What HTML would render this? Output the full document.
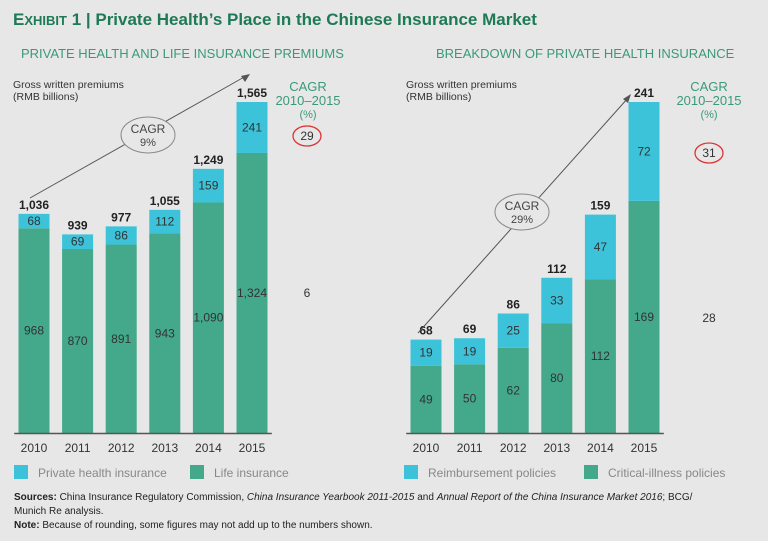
<!DOCTYPE html>
<html><head><meta charset="utf-8"><style>
body{margin:0;background:#e7e7e8;font-family:"Liberation Sans",sans-serif;}
svg{display:block}
</style></head><body>
<svg width="768" height="541" xmlns="http://www.w3.org/2000/svg">
<rect width="768" height="541" fill="#e7e7e8"/>
<text x="13" y="25" font-size="17" font-weight="bold" fill="#1e7a56">E<tspan font-size="13">XHIBIT</tspan> 1 | Private Health’s Place in the Chinese Insurance Market</text>
<text x="21" y="58" font-size="13" fill="#3a9a78">PRIVATE HEALTH AND LIFE INSURANCE PREMIUMS</text>
<text x="436" y="58" font-size="13" fill="#3a9a78">BREAKDOWN OF PRIVATE HEALTH INSURANCE</text>
<text x="13" y="88" font-size="10.5" fill="#333">Gross written premiums</text>
<text x="13" y="100" font-size="10.5" fill="#333">(RMB billions)</text>
<text x="406" y="88" font-size="10.5" fill="#333">Gross written premiums</text>
<text x="406" y="100" font-size="10.5" fill="#333">(RMB billions)</text>
<g id="lc"></g><g id="rc"></g>
<g font-size="13" fill="#3a9a78" text-anchor="middle">
<text x="308" y="91">CAGR</text>
<text x="308" y="105">2010–2015</text>
<text x="308" y="118" font-size="11">(%)</text>
<text x="709" y="91">CAGR</text>
<text x="709" y="105">2010–2015</text>
<text x="709" y="118" font-size="11">(%)</text>
</g>
<g font-size="12" fill="#333" text-anchor="middle">
<ellipse cx="307" cy="136" rx="14" ry="10" fill="none" stroke="#d33" stroke-width="1.3"/>
<text x="307" y="140">29</text>
<text x="307" y="297">6</text>
<ellipse cx="709" cy="153" rx="14" ry="10" fill="none" stroke="#d33" stroke-width="1.3"/>
<text x="709" y="157">31</text>
<text x="709" y="322">28</text>
</g>
<g>
<line x1="30" y1="198" x2="246" y2="76" stroke="#555" stroke-width="1"/>
<polygon points="250,74 241,76 245,82" fill="#555"/>
<ellipse cx="148" cy="135" rx="27" ry="18" fill="#e7e7e8" stroke="#888" stroke-width="1"/>
<text x="148" y="133" font-size="12" fill="#444" text-anchor="middle">CAGR</text>
<text x="148" y="146" font-size="11" fill="#444" text-anchor="middle">9%</text>
</g>
<g>
<line x1="418" y1="333" x2="628" y2="98" stroke="#555" stroke-width="1"/>
<polygon points="631,94 623,99 628,103" fill="#555"/>
<ellipse cx="522" cy="212" rx="27" ry="18" fill="#e7e7e8" stroke="#888" stroke-width="1"/>
<text x="522" y="210" font-size="12" fill="#444" text-anchor="middle">CAGR</text>
<text x="522" y="223" font-size="11" fill="#444" text-anchor="middle">29%</text>
</g>
<g font-size="12" fill="#888">
<rect x="14" y="465" width="14" height="14" fill="#3cc3d9"/>
<text x="38" y="477">Private health insurance</text>
<rect x="190" y="465" width="14" height="14" fill="#43a98a"/>
<text x="214" y="477">Life insurance</text>
<rect x="404" y="465" width="14" height="14" fill="#3cc3d9"/>
<text x="428" y="477">Reimbursement policies</text>
<rect x="584" y="465" width="14" height="14" fill="#43a98a"/>
<text x="608" y="477">Critical-illness policies</text>
</g>
<g font-size="10" fill="#222">
<text x="14" y="500"><tspan font-weight="bold">Sources:</tspan> China Insurance Regulatory Commission, <tspan font-style="italic">China Insurance Yearbook 2011-2015</tspan> and <tspan font-style="italic">Annual Report of the China Insurance Market 2016</tspan>; BCG/</text>
<text x="14" y="514">Munich Re analysis.</text>
<text x="14" y="528"><tspan font-weight="bold">Note:</tspan> Because of rounding, some figures may not add up to the numbers shown.</text>
</g>
</svg>
<script>
const years=["2010","2011","2012","2013","2014","2015"];
const lifeVals=[968,870,891,943,1090,1324];
const healthVals=[68,69,86,112,159,241];
const lifeTotals=["1,036","939","977","1,055","1,249","1,565"];
const lifeLabels=["968","870","891","943","1,090","1,324"];
const criticalVals=[49,50,62,80,112,169];
const reimbVals=[19,19,25,33,47,72];
const rightTotals=["68","69","86","112","159","241"];
const NS="http://www.w3.org/2000/svg";
function mk(tag,a,p){const e=document.createElementNS(NS,tag);for(const k in a)e.setAttribute(k,a[k]);p.appendChild(e);return e;}
function chart(g,x0,step,maxV,maxPx,bot,top,totals,botLabels,pre){
  const base=433,bw=31;
  const y=v=>base-v*maxPx/maxV;
  const xc=i=>x0+i*step;
  years.forEach((yr,i)=>{
    const b=mk('rect',{x:xc(i)-bw/2,y:y(bot[i]),width:bw,height:base-y(bot[i]),fill:'#43a98a'},g);
    
    
    const t=mk('rect',{x:xc(i)-bw/2,y:y(bot[i]+top[i]),width:bw,height:y(bot[i])-y(bot[i]+top[i]),fill:'#3cc3d9'},g);
    
    
    const l1=mk('text',{x:xc(i),y:(y(bot[i])+base)/2+4,'font-size':12,fill:'#333','text-anchor':'middle'},g);l1.textContent=botLabels[i];
    
    
    const l2=mk('text',{x:xc(i),y:(y(bot[i])+y(bot[i]+top[i]))/2+4,'font-size':12,fill:'#333','text-anchor':'middle'},g);l2.textContent=top[i];
    
    
    const l3=mk('text',{x:xc(i),y:y(bot[i]+top[i])-5,'font-size':12,'font-weight':'bold',fill:'#222','text-anchor':'middle'},g);l3.textContent=totals[i];
    
    
    const yl=mk('text',{x:xc(i),y:452,'font-size':12,fill:'#333','text-anchor':'middle'},g);yl.textContent=yr;
    
    
  });
  const ax=mk('line',{x1:x0-step/2+2,x2:xc(5)+step/2-2,y1:base+0.5,y2:base+0.5,stroke:'#555','stroke-width':1.5},g);
  
  
}
chart(document.getElementById('lc'),34,43.6,1565,331,lifeVals,healthVals,lifeTotals,lifeLabels,'left');
chart(document.getElementById('rc'),426,43.6,241,331,criticalVals,reimbVals,rightTotals,criticalVals.map(String),'right');
</script>
</body></html>
